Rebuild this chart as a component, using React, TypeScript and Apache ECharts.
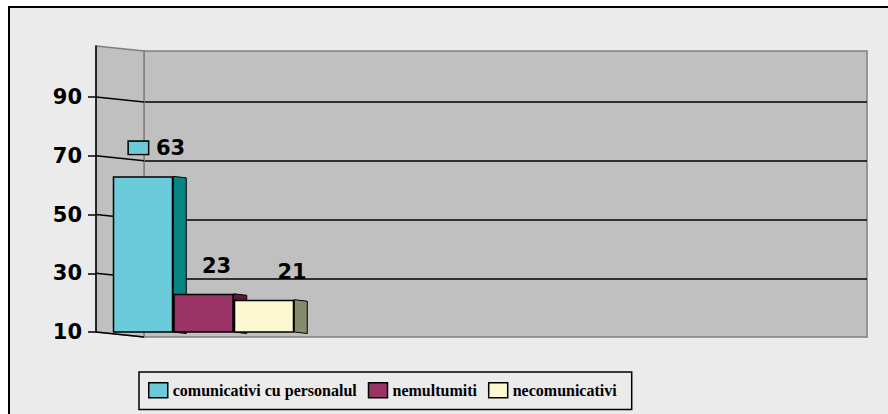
import React, { useEffect, useRef } from "react";
import * as echarts from "echarts";

// ---- data ----
const categories = [""];
const seriesNames = ["comunicativi cu personalul", "nemultumiti", "necomunicativi"];
const seriesValues = [63, 23, 21];
const tickValues = [10, 30, 50, 70, 90];
const axisMin = 10;
const axisMax = 107.4;

// ---- styles ----
const frontColors = ["#6ccbdb", "#993366", "#fbf8d2"];
const sideColors = ["#0a8482", "#5e1a3c", "#888a6c"];
const labelOffsets = [
  [14, -13],
  [13, -12],
  [28, -12],
];
const barWidth = 60.5;
const barDepth = [13, 1.5];
const wallDepth = [48, 5];
const numFont = { fontFamily: "DejaVu Sans", fontWeight: "bold" as const, fontSize: 21, color: "#000" };

export default function App() {
  const ref = useRef<HTMLDivElement>(null);

  useEffect(() => {
    document.body.style.margin = "0";
    if (!ref.current) return;
    const chart = echarts.init(ref.current, undefined, { renderer: "svg" });

    const barSeries = seriesNames.map((name, i) => ({
      name,
      type: "bar",
      xAxisIndex: 1,
      yAxisIndex: 1,
      z: 6,
      barWidth,
      barGap: "0%",
      data: [seriesValues[i]],
      itemStyle: { color: frontColors[i], borderColor: "#000", borderWidth: 1.5 },
      label:
        i === 0
          ? {
              show: true,
              position: "top",
              offset: labelOffsets[i],
              formatter: "{k|}{g|}{v|{c}}",
              rich: {
                k: { width: 19, height: 12, backgroundColor: frontColors[i], borderColor: "#000", borderWidth: 1.5 },
                g: { width: 8 },
                v: numFont,
              },
            }
          : { show: true, position: "top", offset: labelOffsets[i], ...numFont },
    }));

    const option: any = {
      animation: false,
      backgroundColor: "transparent",
      grid: [
        {
          left: 144,
          top: 51,
          right: 21,
          height: 286,
          show: true,
          backgroundColor: "#c0c0c0",
          borderColor: "#808080",
          borderWidth: 1.5,
        },
        { left: 96, top: 46, width: 215, height: 286 },
      ],
      xAxis: [
        { type: "value", gridIndex: 0, min: 0, max: 1, show: false },
        {
          type: "category",
          gridIndex: 1,
          data: categories,
          axisLine: { show: false },
          axisTick: { show: false },
          axisLabel: { show: false },
        },
      ],
      yAxis: [
        {
          type: "value",
          gridIndex: 0,
          min: axisMin,
          max: axisMax,
          interval: 20,
          axisLine: { show: false },
          axisTick: { show: false },
          axisLabel: { show: false },
          splitLine: {
            show: true,
            showMinLine: false,
            showMaxLine: false,
            lineStyle: { color: "#000", width: 1.5 },
          },
        },
        {
          type: "value",
          gridIndex: 1,
          min: axisMin,
          max: axisMax,
          interval: 20,
          z: 3,
          axisLine: { show: true, lineStyle: { color: "#000", width: 1.5 } },
          axisTick: {
            show: true,
            length: 8,
            customValues: tickValues,
            lineStyle: { color: "#000", width: 1.5 },
          },
          axisLabel: {
            show: true,
            margin: 14,
            customValues: tickValues,
            ...numFont,
          },
          splitLine: { show: false },
        },
      ],
      legend: {
        data: seriesNames,
        left: 139,
        top: 372,
        orient: "horizontal",
        icon: "rect",
        itemWidth: 19,
        itemHeight: 15,
        itemGap: 11,
        padding: [10, 15, 11, 9],
        borderColor: "#000",
        borderWidth: 1.5,
        itemStyle: { borderColor: "#000", borderWidth: 1.5 },
        textStyle: { fontFamily: "Liberation Serif", fontWeight: "bold", fontSize: 16, color: "#000" },
      },
      series: [
        {
          name: "leftWall",
          type: "custom",
          xAxisIndex: 0,
          yAxisIndex: 0,
          z: 1,
          silent: true,
          clip: false,
          data: [[0, axisMin, axisMax]],
          renderItem: (params: any, api: any) => {
            const top = api.coord([0, api.value(2)]);
            const bot = api.coord([0, api.value(1)]);
            return {
              type: "polygon",
              shape: {
                points: [
                  [top[0] - wallDepth[0], top[1] - wallDepth[1]],
                  top,
                  bot,
                  [bot[0] - wallDepth[0], bot[1] - wallDepth[1]],
                ],
              },
              style: { fill: "#c0c0c0", stroke: "#808080", lineWidth: 1.5 },
            };
          },
        },
        {
          name: "leftWallGrid",
          type: "custom",
          xAxisIndex: 0,
          yAxisIndex: 0,
          z: 2,
          silent: true,
          clip: false,
          data: tickValues.map((v) => [0, v]),
          renderItem: (params: any, api: any) => {
            const p = api.coord([0, api.value(1)]);
            return {
              type: "line",
              shape: { x1: p[0] - wallDepth[0], y1: p[1] - wallDepth[1], x2: p[0], y2: p[1] },
              style: { stroke: "#000", lineWidth: 1.5 },
            };
          },
        },
        {
          name: "barSides",
          type: "custom",
          xAxisIndex: 1,
          yAxisIndex: 1,
          z: 5,
          silent: true,
          clip: false,
          data: seriesValues.map((v, i) => [0, v, i]),
          renderItem: (params: any, api: any) => {
            const i = api.value(2);
            const t = api.coord([0, api.value(1)]);
            const b = api.coord([0, axisMin]);
            const n = seriesValues.length;
            const right = t[0] + (i - n / 2) * barWidth + barWidth;
            return {
              type: "polygon",
              shape: {
                points: [
                  [right, t[1]],
                  [right + barDepth[0], t[1] + barDepth[1]],
                  [right + barDepth[0], b[1] + barDepth[1]],
                  [right, b[1]],
                ],
              },
              style: { fill: sideColors[i], stroke: "#000", lineWidth: 1 },
            };
          },
        },
        ...barSeries,
      ],
    };

    chart.setOption(option);
    return () => chart.dispose();
  }, []);

  return (
    <div style={{ position: "relative", width: 888, height: 414, overflow: "hidden", background: "#fff" }}>
      <div
        style={{
          position: "absolute",
          left: 8,
          top: 6,
          width: 900,
          height: 430,
          borderLeft: "2px solid #000",
          borderTop: "2px solid #000",
          background: "#ebebeb",
        }}
      />
      <div ref={ref} style={{ position: "absolute", left: 0, top: 0, width: 888, height: 414 }} />
    </div>
  );
}
